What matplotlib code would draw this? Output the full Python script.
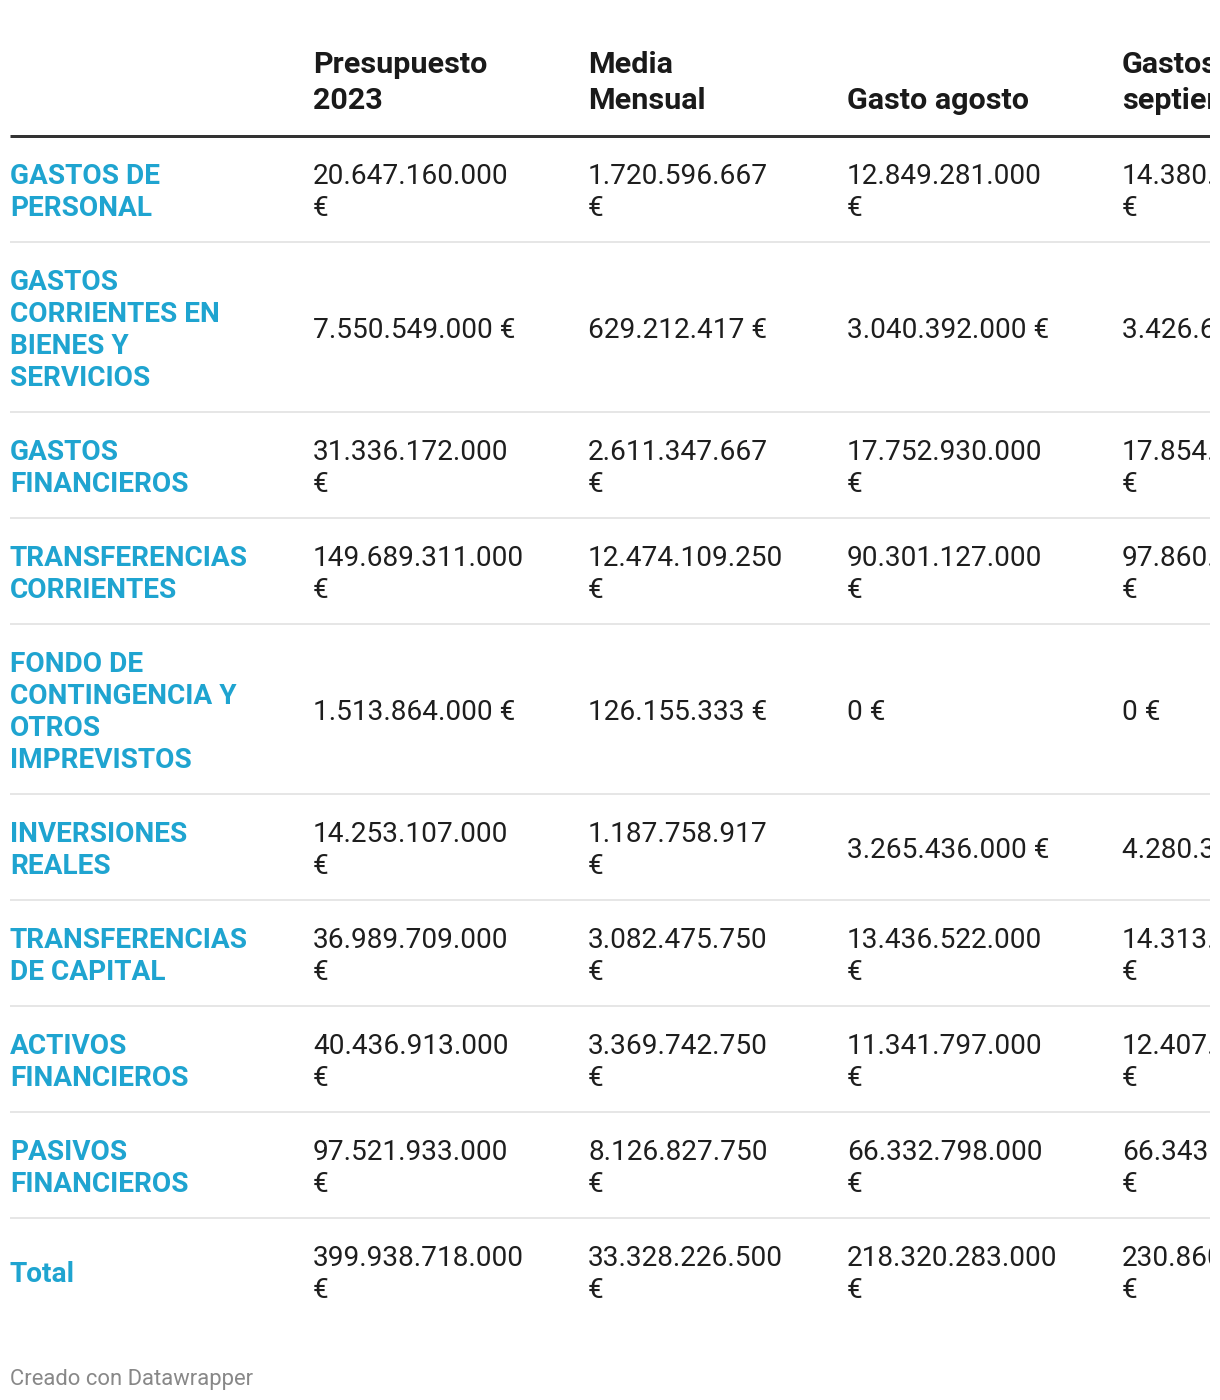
import matplotlib
matplotlib.use("Agg")
import matplotlib.pyplot as plt
from matplotlib.font_manager import FontProperties

# ---------------- data ----------------
headers = ["", "Presupuesto 2023", "Media Mensual", "Gasto agosto", "Gastos septiembre"]
categories = [
    "GASTOS DE PERSONAL",
    "GASTOS CORRIENTES EN BIENES Y SERVICIOS",
    "GASTOS FINANCIEROS",
    "TRANSFERENCIAS CORRIENTES",
    "FONDO DE CONTINGENCIA Y OTROS IMPREVISTOS",
    "INVERSIONES REALES",
    "TRANSFERENCIAS DE CAPITAL",
    "ACTIVOS FINANCIEROS",
    "PASIVOS FINANCIEROS",
    "Total",
]
presupuesto_2023 = [20647160000, 7550549000, 31336172000, 149689311000, 1513864000,
                    14253107000, 36989709000, 40436913000, 97521933000, 399938718000]
media_mensual = [1720596667, 629212417, 2611347667, 12474109250, 126155333,
                 1187758917, 3082475750, 3369742750, 8126827750, 33328226500]
gasto_agosto = [12849281000, 3040392000, 17752930000, 90301127000, 0,
                3265436000, 13436522000, 11341797000, 66332798000, 218320283000]
gastos_septiembre = [14380500000, 3426650000, 17854500000, 97860500000, 0,
                     4280350000, 14313500000, 12407500000, 66343500000, 230860000000]
footer = "Creado con Datawrapper"

# ---------------- style ----------------
W, H = 1220, 1400
fig = plt.figure(figsize=(W / 100, H / 100), dpi=100)
fig.patch.set_facecolor("white")
RIGHT = 1210
ax = fig.add_axes([0, 0, RIGHT / W, 1])
ax.set_xlim(0, RIGHT)
ax.set_ylim(H, 0)
ax.axis("off")

PX = 0.72  # px -> pt at dpi 100
fp_body = FontProperties(family="Roboto", size=28 * PX)
fp_label = FontProperties(family="Roboto", weight="bold", size=28 * PX)
fp_head = FontProperties(family="Roboto", weight="bold", size=30.5 * PX)
fp_foot = FontProperties(family="Roboto", size=22 * PX)

LABEL_COLOR = "#1fa4d0"
TEXT_COLOR = "#1e1e1e"

col_x = [10, 313, 588, 847, 1122]
col_maxw = [255, 210, 190, 210, 210]
head_maxw = [255, 240, 180, 240, 200]

renderer = fig.canvas.get_renderer()


def text_width(s, fp):
    t = ax.text(0, 0, s, fontproperties=fp)
    w = t.get_window_extent(renderer).width
    t.remove()
    return w


def wrap(s, fp, maxw):
    words = s.split(" ")
    lines = []
    cur = ""
    for w in words:
        cand = w if not cur else cur + " " + w
        if cur and text_width(cand, fp) > maxw:
            lines.append(cur)
            cur = w
        else:
            cur = cand
    if cur:
        lines.append(cur)
    return lines


def fmt(v):
    return f"{v:,}".replace(",", ".") + " €"


DY = 3  # optical centring offset

# ---------------- header ----------------
HEAD_LS = 36
head_bottom = 99
for j, h in enumerate(headers):
    if not h:
        continue
    lines = wrap(h, fp_head, head_maxw[j])
    n = len(lines)
    for i, ln in enumerate(lines):
        y = head_bottom - (n - 1 - i) * HEAD_LS + 2
        ax.text(col_x[j], y, ln, fontproperties=fp_head, color="#1a1a1a",
                va="center", ha="left", clip_on=True)

ax.plot([10, RIGHT], [136, 136], color="#333333", lw=3 * PX, solid_capstyle="butt")

# ---------------- body ----------------
LS = 32
PAD = 42
columns = [presupuesto_2023, media_mensual, gasto_agosto, gastos_septiembre]
y_top = 137
for r, cat in enumerate(categories):
    cells = [wrap(cat, fp_label, col_maxw[0])]
    for j, col in enumerate(columns):
        cells.append(wrap(fmt(col[r]), fp_body, col_maxw[j + 1]))
    nmax = max(len(c) for c in cells)
    height = nmax * LS + PAD
    yc = y_top + height / 2 - 0.5 + DY
    for j, lines in enumerate(cells):
        n = len(lines)
        for i, ln in enumerate(lines):
            y = yc + (i - (n - 1) / 2) * LS
            ax.text(col_x[j], y, ln,
                    fontproperties=fp_label if j == 0 else fp_body,
                    color=LABEL_COLOR if j == 0 else TEXT_COLOR,
                    va="center", ha="left", clip_on=True)
    y_top += height
    if r < len(categories) - 1:
        ax.plot([10, RIGHT], [y_top - 1, y_top - 1], color="#e6e6e6", lw=2 * PX,
                solid_capstyle="butt")

ax.text(10, 1376 + DY, footer, fontproperties=fp_foot, color="#888888", va="center", ha="left")

fig.savefig("out.png", dpi=100, facecolor="white")
